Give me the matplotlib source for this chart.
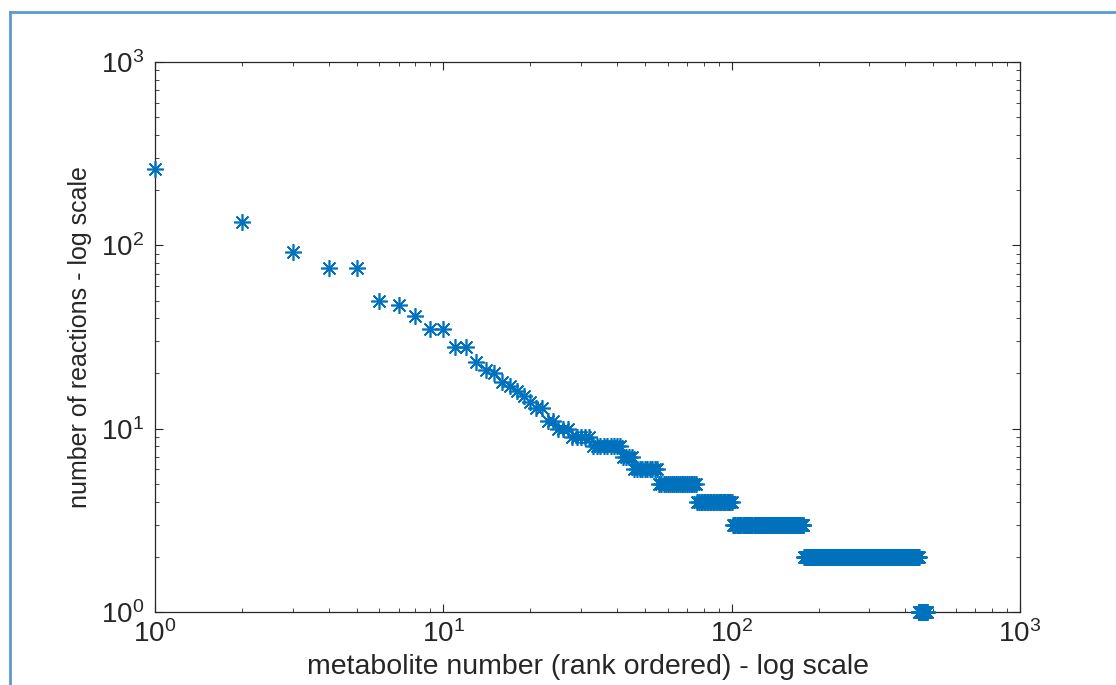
"""
plot.py
Connectivité des métabolites, classée par rang (log-log).
"""

import numpy as np
import matplotlib
matplotlib.use("Agg")
import matplotlib.pyplot as plt
from matplotlib.lines import Line2D
from matplotlib.ticker import LogLocator, NullFormatter

# degrees of the top-ranked metabolites, read one by one
top_degrees = [260, 134, 92, 75, 75, 50, 47, 41, 35, 35, 28, 28, 23, 21, 20,
               18, 17, 16, 15, 14, 13, 13, 11, 11, 10, 10, 10]
# then plateaus: degree -> how many metabolites share it
plateau_degrees = [9, 8, 7, 6, 5, 4, 3, 2, 1]
plateau_counts = [5, 9, 4, 10, 20, 25, 77, 268, 30]

degrees = top_degrees[:]
for d, c in zip(plateau_degrees, plateau_counts):
    degrees += [d] * c
ranks = np.arange(1, len(degrees) + 1)

plt.rcParams["font.family"] = ["Liberation Sans", "DejaVu Sans"]
plt.rcParams["mathtext.fontset"] = "custom"
plt.rcParams["mathtext.rm"] = "Liberation Sans"

fig = plt.figure(figsize=(11.16, 6.85), dpi=100)
ax = fig.add_axes([0.139, 0.1066, 0.775, 0.8029])

ax.loglog(ranks, degrees, linestyle="none", marker=(8, 2, 0), markersize=12,
          markeredgewidth=1.2, color="#0072BD", clip_on=False, zorder=3)

ax.set_xlim(1, 1000)
ax.set_ylim(1, 1000)
ax.set_xlabel("metabolite number (rank ordered) - log scale", fontsize=20.5,
              color="#262626")
ax.set_ylabel("number of reactions - log scale", fontsize=18,
              color="#262626")
ax.xaxis.set_label_coords(0.5, -0.077)
ax.yaxis.set_label_coords(-0.073, 0.5)

for a in (ax.xaxis, ax.yaxis):
    a.set_major_locator(LogLocator(base=10, numticks=10))
    a.set_minor_locator(LogLocator(base=10, subs=np.arange(2, 10), numticks=10))
    a.set_minor_formatter(NullFormatter())

ax.tick_params(which="both", direction="in", top=True, right=True,
               colors="#262626", labelsize=20)
ax.tick_params(which="major", length=6, width=0.8)
ax.tick_params(which="minor", length=3, width=0.6)
ax.tick_params(axis="x", pad=6)
ax.tick_params(axis="y", pad=8)
for s in ax.spines.values():
    s.set_color("#262626")
    s.set_linewidth(0.9)

# cadre bleu du document
x0 = 10 / 1116
y0 = 1 - 12 / 685
fig.add_artist(Line2D([x0, 1], [y0, y0], transform=fig.transFigure,
                      color="#5B9BD5", linewidth=2))
fig.add_artist(Line2D([x0, x0], [0, y0], transform=fig.transFigure,
                      color="#5B9BD5", linewidth=2))

fig.savefig("out.png", dpi=100)
